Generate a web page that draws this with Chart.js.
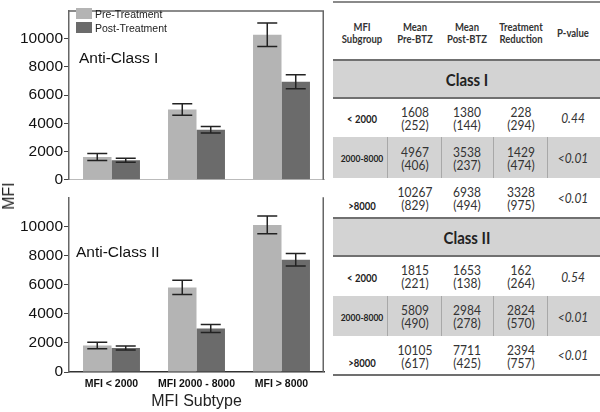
<!DOCTYPE html>
<html><head><meta charset="utf-8">
<script src="https://cdn.jsdelivr.net/npm/chart.js@4.4.1/dist/chart.umd.min.js"></script>
<style>
html,body{margin:0;padding:0;background:#fff;}
#wrap{position:relative;width:600px;height:412px;overflow:hidden;font-family:"Liberation Sans",Arial,sans-serif;color:#111;}
canvas{position:absolute;left:0;}
.t{position:absolute;white-space:nowrap;transform:translate(-50%,-50%);line-height:1;}
.l{position:absolute;white-space:nowrap;line-height:1;transform:translateY(-50%);}
.tb{font-family:Lato,"Open Sans",sans-serif;color:#333;transform:translate(-50%,-50%) scaleY(1.1);}
.box{position:absolute;}
</style></head><body><div id="wrap">
<canvas id="c1" width="330" height="190" style="top:0"></canvas>
<canvas id="c2" width="330" height="225" style="top:187px"></canvas>
</div>
<script>
// ---- data ----
const categories = ['MFI < 2000', 'MFI 2000 - 8000', 'MFI > 8000'];
const seriesNames = ['Pre-Treatment', 'Post-Treatment'];
const yTickValues = [0, 2000, 4000, 6000, 8000, 10000];

const classIPre = [1608, 4967, 10267];
const classIPreErr = [252, 406, 829];
const classIPost = [1380, 3538, 6938];
const classIPostErr = [144, 237, 494];
const classIReduction = [228, 1429, 3328];
const classIReductionErr = [294, 474, 975];
const classIP = ['0.44', '<0.01', '<0.01'];

const classIIPre = [1815, 5809, 10105];
const classIIPreErr = [221, 490, 617];
const classIIPost = [1653, 2984, 7711];
const classIIPostErr = [138, 278, 425];
const classIIReduction = [162, 2824, 2394];
const classIIReductionErr = [264, 570, 757];
const classIIP = ['0.54', '<0.01', '<0.01'];

const subgroupLabels = ['< 2000', '2000-8000', '>8000'];
const tableHeaders = [['MFI', 'Subgroup'], ['Mean', 'Pre-BTZ'], ['Mean', 'Post-BTZ'], ['Treatment', 'Reduction'], ['P-value']];
const panelTitles = ['Anti-Class I', 'Anti-Class II'];
const tableSections = ['Class I', 'Class II'];

// ---- styles ----
const PRE_COLOR = '#b4b4b4';
const POST_COLOR = '#6b6b6b';
const FONT = '"Liberation Sans", Arial, sans-serif';

const errorBarPlugin = {
  id: 'errorBars',
  afterDatasetsDraw(chart) {
    const ctx = chart.ctx, ys = chart.scales.y;
    chart.data.datasets.forEach((ds, i) => {
      const meta = chart.getDatasetMeta(i);
      meta.data.forEach((bar, j) => {
        const v = ds.data[j], e = ds.errorBars[j];
        const yT = ys.getPixelForValue(v + e), yB = ys.getPixelForValue(v - e);
        const hw = 10;
        ctx.save();
        ctx.strokeStyle = '#222';
        ctx.lineWidth = 1.5;
        ctx.beginPath();
        ctx.moveTo(bar.x, yT); ctx.lineTo(bar.x, yB);
        ctx.moveTo(bar.x - hw, yT); ctx.lineTo(bar.x + hw, yT);
        ctx.moveTo(bar.x - hw, yB); ctx.lineTo(bar.x + hw, yB);
        ctx.stroke();
        ctx.restore();
      });
    });
  }
};

const framePlugin = {
  id: 'frame',
  afterDraw(chart, args, opts) {
    const ctx = chart.ctx, a = chart.chartArea;
    ctx.save();
    ctx.strokeStyle = '#666';
    ctx.lineWidth = 1.5;
    ctx.beginPath();
    if (opts.top) { ctx.moveTo(a.left, a.top + 0.75); ctx.lineTo(a.right, a.top + 0.75); }
    ctx.moveTo(a.right - 0.75, a.top); ctx.lineTo(a.right - 0.75, a.bottom);
    ctx.stroke();
    ctx.restore();
  }
};

function makeChart(id, pre, preErr, post, postErr, isBottom) {
  return new Chart(document.getElementById(id), {
    type: 'bar',
    data: {
      labels: categories,
      datasets: [
        { label: seriesNames[0], data: pre, errorBars: preErr, backgroundColor: PRE_COLOR, borderWidth: 0 },
        { label: seriesNames[1], data: post, errorBars: postErr, backgroundColor: POST_COLOR, borderWidth: 0 }
      ]
    },
    options: {
      responsive: false,
      animation: false,
      devicePixelRatio: 1,
      layout: { padding: { top: 1, right: 6, left: 0, bottom: 0 } },
      datasets: { bar: { categoryPercentage: 0.67, barPercentage: 1 } },
      plugins: {
        legend: { display: false },
        tooltip: { enabled: false },
        frame: { top: !isBottom }
      },
      scales: {
        x: {
          grid: { display: false, drawTicks: false },
          border: { color: isBottom ? '#333' : '#bbb', width: isBottom ? 1.5 : 1 },
          ticks: {
            display: isBottom,
            padding: 6,
            color: '#111',
            font: { family: FONT, size: 10.5, weight: 'bold' }
          },
          title: {
            display: isBottom,
            text: 'MFI Subtype',
            color: '#222',
            font: { family: FONT, size: 16 },
            padding: { top: 0, bottom: 1 }
          },
          afterFit: s => { s.height = isBottom ? 40 : 3; }
        },
        y: {
          min: 0, max: 12000,
          afterBuildTicks: s => { s.ticks = yTickValues.map(v => ({ value: v })); },
          grid: { drawOnChartArea: false, drawTicks: true, tickLength: 5, color: '#444' },
          border: { color: '#666', width: 1.5 },
          ticks: {
            padding: 1,
            color: '#111',
            font: { family: FONT, size: 15.5 },
            callback: v => String(v)
          },
          afterFit: s => { s.width = 69; }
        }
      }
    },
    plugins: [errorBarPlugin, framePlugin]
  });
}

makeChart('c1', classIPre, classIPreErr, classIPost, classIPostErr, false);
makeChart('c2', classIIPre, classIIPreErr, classIIPost, classIIPostErr, true);

// ---- HTML overlays ----
const wrap = document.getElementById('wrap');
function el(cls, text, x, y, css) {
  const d = document.createElement('div');
  d.className = cls;
  d.textContent = text;
  d.style.left = x + 'px';
  d.style.top = y + 'px';
  if (css) Object.assign(d.style, css);
  wrap.appendChild(d);
  return d;
}
function rect(x, y, w, h, color) {
  const d = document.createElement('div');
  d.className = 'box';
  Object.assign(d.style, { left: x + 'px', top: y + 'px', width: w + 'px', height: h + 'px', background: color });
  wrap.appendChild(d);
}

// legend
rect(76, 8, 16, 11, PRE_COLOR);
rect(76, 22, 16, 11, POST_COLOR);
el('l', seriesNames[0], 95, 14, { fontSize: '10.5px', color: '#222' });
el('l', seriesNames[1], 95, 28, { fontSize: '10.5px', color: '#222' });
// panel titles
el('l', panelTitles[0], 79, 58, { fontSize: '15.5px', color: '#111' });
el('l', panelTitles[1], 76, 252, { fontSize: '15.5px', color: '#111' });
// y axis title
el('t', 'MFI', 9, 196, { fontSize: '16px', color: '#222', transform: 'translate(-50%,-50%) rotate(-90deg)' });

// ---- table ----
const colX = [362, 415, 467, 521, 573];
const sepX = [387, 441, 493, 547];
const TL = 333, TW = 267;
const LINE = '#707070', BAND = '#d3d3d3';

rect(TL, 1, TW, 2, '#8a8a8a');
tableHeaders.forEach((h, i) => {
  if (h.length === 2) {
    el('t tb', h[0], colX[i], 27, { fontSize: '9.5px', fontWeight: 'bold' });
    el('t tb', h[1], colX[i], 38.5, { fontSize: '9.5px', fontWeight: 'bold' });
  } else {
    el('t tb', h[0], colX[i], 33, { fontSize: '9.5px', fontWeight: 'bold' });
  }
});

function section(bandTop, bandBot, title, rows, pre, preErr, post, postErr, red, redErr, pv) {
  rect(TL, bandTop, TW, bandBot - bandTop, BAND);
  rect(TL, bandTop - 1, TW, 2, LINE);
  rect(TL, bandBot - 1, TW, 2, LINE);
  el('t tb', title, 467, (bandTop + bandBot) / 2 + 1, { fontSize: '15px', fontWeight: 'bold', color: '#222' });
  rows.forEach((r, j) => {
    const top = r[0], bot = r[1];
    const c = (top + bot) / 2 + 1.5;
    if (j === 1) {
      rect(TL, top, TW, bot - top, BAND);
      sepX.forEach(x => rect(x, top, 1, bot - top, '#a8a8a8'));
    }
    const lblSize = subgroupLabels[j].length > 7 ? '8.5px' : '9.5px';
    const lblY = j === 2 ? c + 6 : c;
    el('t tb', subgroupLabels[j], colX[0], lblY, { fontSize: lblSize, fontWeight: 'bold', color: '#222' });
    [[pre, preErr], [post, postErr], [red, redErr]].forEach((p, k) => {
      el('t tb', String(p[0][j]), colX[k + 1], c - 6.5, { fontSize: '12px' });
      el('t tb', '(' + p[1][j] + ')', colX[k + 1], c + 6.5, { fontSize: '12px' });
    });
    el('t tb', pv[j], colX[4], j === 2 ? c - 1 : c, { fontSize: '12px', fontStyle: 'italic' });
  });
}
section(60, 98, tableSections[0], [[98, 137], [137, 178], [178, 218]],
  classIPre, classIPreErr, classIPost, classIPostErr, classIReduction, classIReductionErr, classIP);
section(218, 256, tableSections[1], [[256, 296], [296, 336], [336, 375]],
  classIIPre, classIIPreErr, classIIPost, classIIPostErr, classIIReduction, classIIReductionErr, classIIP);
rect(TL, 374, TW, 2, LINE);
</script>
</body></html>
